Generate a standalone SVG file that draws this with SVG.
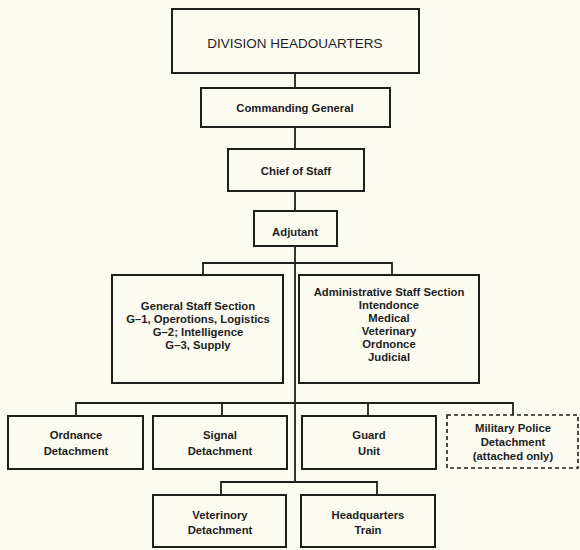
<svg xmlns="http://www.w3.org/2000/svg" width="580" height="550" viewBox="0 0 580 550">
<style>
.bx{fill:none;stroke:#1e1e1e;stroke-width:2}
.dash{fill:none;stroke:#1e1e1e;stroke-width:1.6;stroke-dasharray:4 3}
.ln{fill:none;stroke:#1e1e1e;stroke-width:1.8}
text{font-family:"Liberation Sans",Arial,sans-serif;font-size:11.3px;font-weight:bold;fill:#1e1e1e;text-anchor:middle}
.big{font-size:13.5px;font-weight:normal}
</style>
<rect x="0" y="0" width="580" height="550" fill="#fcfbf1"/>
<g id="connectors">
<line class="ln" x1="295" y1="73" x2="295" y2="88"/>
<line class="ln" x1="295" y1="127" x2="295" y2="149"/>
<line class="ln" x1="295" y1="191" x2="295" y2="211"/>
<line class="ln" x1="295" y1="246" x2="295" y2="482"/>
<polyline class="ln" points="203,275 203,263 392,263 392,275"/>
<polyline class="ln" points="76,416 76,403 513,403 513,415"/>
<line class="ln" x1="222" y1="403" x2="222" y2="416"/>
<line class="ln" x1="368" y1="403" x2="368" y2="416"/>
<polyline class="ln" points="221,495 221,482 377,482 377,495"/>
</g>
<g id="hq"><rect class="bx" x="172" y="9" width="247" height="64"/><text class="big" x="295" y="48">DIVISION HEADOUARTERS</text></g>
<g id="cg"><rect class="bx" x="201" y="88" width="189" height="39"/><text x="295" y="112">Commanding General</text></g>
<g id="cos"><rect class="bx" x="228" y="149" width="136" height="42"/><text x="296" y="175">Chief of Staff</text></g>
<g id="adj"><rect class="bx" x="254" y="211" width="83" height="35"/><text x="295" y="236">Adjutant</text></g>
<g id="gss"><rect class="bx" x="112" y="275" width="171" height="108"/>
<text x="198" y="310">General Staff Section</text>
<text x="198" y="323">G–1, Operotions, Logistics</text>
<text x="198" y="336">G–2; Intelligence</text>
<text x="198" y="349">G–3, Supply</text></g>
<g id="ass"><rect class="bx" x="299" y="275" width="180" height="108"/>
<text x="389" y="296">Administrative Staff Section</text>
<text x="389" y="309">Intendonce</text>
<text x="389" y="322">Medical</text>
<text x="389" y="335">Veterinary</text>
<text x="389" y="348">Ordnonce</text>
<text x="389" y="361">Judicial</text></g>
<g id="ord"><rect class="bx" x="8" y="416" width="135" height="53"/><text x="76" y="439">Ordnance</text><text x="76" y="455">Detachment</text></g>
<g id="sig"><rect class="bx" x="153" y="416" width="134" height="53"/><text x="220" y="439">Signal</text><text x="220" y="455">Detachment</text></g>
<g id="guard"><rect class="bx" x="302" y="416" width="134" height="53"/><text x="369" y="439">Guard</text><text x="369" y="455">Unit</text></g>
<g id="mp"><rect class="dash" x="447" y="415" width="131" height="53"/><text x="513" y="432">Military Police</text><text x="513" y="446">Detachment</text><text x="513" y="460">(attached only)</text></g>
<g id="vet"><rect class="bx" x="153" y="495" width="133" height="52"/><text x="220" y="519">Veterinory</text><text x="220" y="534">Detachment</text></g>
<g id="hqt"><rect class="bx" x="301" y="495" width="134" height="52"/><text x="368" y="519">Headquarters</text><text x="368" y="534">Train</text></g>
</svg>
